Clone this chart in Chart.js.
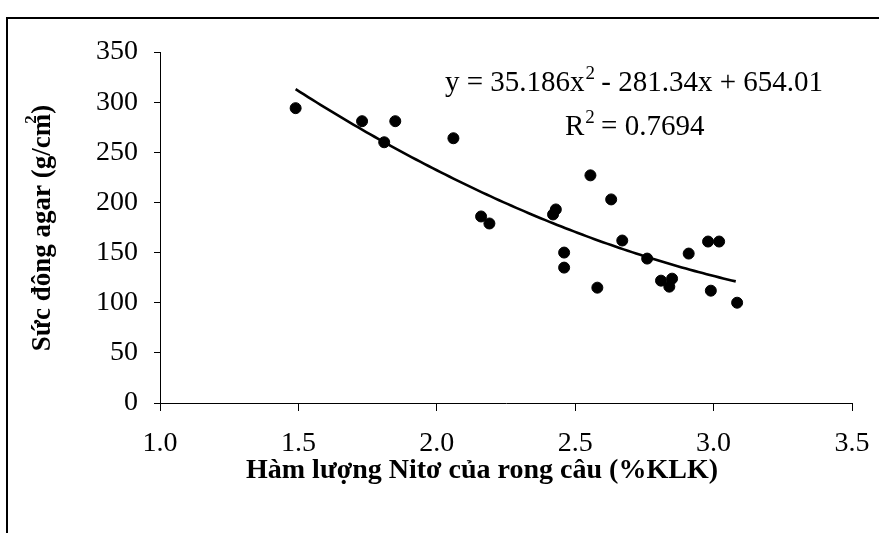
<!DOCTYPE html>
<html>
<head>
<meta charset="utf-8">
<script src="https://cdn.jsdelivr.net/npm/chart.js@4.4.0/dist/chart.umd.min.js"></script>
<style>
  html, body { margin: 0; padding: 0; background: #fff; }
  #wrap { position: relative; width: 879px; height: 533px; overflow: hidden; }
  #frame { position: absolute; left: 6px; top: 17px; width: 900px; height: 600px; border: 2px solid #000; }
  #chart { position: absolute; left: 0; top: 0; }
</style>
</head>
<body>
<div id="wrap">
  <div id="frame"></div>
  <canvas id="chart" width="879" height="533"></canvas>
</div>
<script>
// Data
const nitoValues = [1.49, 1.73, 1.81, 1.85, 2.06, 2.16, 2.19, 2.42, 2.43, 2.46, 2.46, 2.555,
                    2.58, 2.63, 2.67, 2.76, 2.81, 2.84, 2.85, 2.91, 2.98, 2.99, 3.02, 3.085];
const agarValues = [294, 281, 260, 281, 264, 186, 179, 188, 193, 150, 135, 227,
                    115, 203, 162, 144, 122, 116, 124, 149, 161, 112, 161, 100];

// Polynomial trendline (c0 + c1*x + c2*x^2) and its x range
const trendCoef = [654.01, -281.34, 35.186];
const trendRange = [1.49, 3.085];

const xTicks = [1.0, 1.5, 2.0, 2.5, 3.0, 3.5];
const yTicks = [0, 50, 100, 150, 200, 250, 300, 350];

const xTitle = "Hàm lượng Nitơ của rong câu (%KLK)";
const yTitle = "Sức đông agar (g/cm";
const eqLeft = "y = 35.186x";
const eqRight = " - 281.34x + 654.01";
const r2Text = " = 0.7694";

const serif = "'Liberation Serif', 'Times New Roman', serif";

const points = nitoValues.map((x, i) => ({ x: x, y: agarValues[i] }));

// Trendline + text labels
const extrasPlugin = {
  id: "extras",
  afterDatasetsDraw(chart) {
    const ctx = chart.ctx;
    const xs = chart.scales.x;
    const ys = chart.scales.y;

    // trendline
    ctx.save();
    ctx.beginPath();
    ctx.strokeStyle = "#000";
    ctx.lineWidth = 2.6;
    ctx.lineJoin = "round";
    for (let x = trendRange[0], n = 0; x <= trendRange[1] + 1e-9; x += 0.015, n++) {
      const y = trendCoef[0] + trendCoef[1] * x + trendCoef[2] * x * x;
      const px = xs.getPixelForValue(x);
      const py = ys.getPixelForValue(y);
      if (n === 0) ctx.moveTo(px, py); else ctx.lineTo(px, py);
    }
    ctx.stroke();
    ctx.restore();
  },
  afterDraw(chart) {
    const ctx = chart.ctx;
    ctx.save();
    ctx.fillStyle = "#000";
    ctx.textBaseline = "alphabetic";

    // equation
    ctx.font = "29px " + serif;
    let x = 445, base = 91;
    ctx.fillText(eqLeft, x, base);
    x += ctx.measureText(eqLeft).width;
    ctx.font = "19px " + serif;
    ctx.fillText("2", x + 1, base - 12);
    x += ctx.measureText("2").width;
    ctx.font = "29px " + serif;
    ctx.fillText(eqRight, x, base);

    // R^2
    x = 565; base = 135;
    ctx.fillText("R", x, base);
    x += ctx.measureText("R").width;
    ctx.font = "19px " + serif;
    ctx.fillText("2", x + 1, base - 12);
    x += ctx.measureText("2").width;
    ctx.font = "29px " + serif;
    ctx.fillText(r2Text, x, base);

    // x title
    ctx.font = "bold 28px " + serif;
    ctx.textAlign = "center";
    ctx.fillText(xTitle, 482, 478);

    // y title, rotated
    ctx.translate(50, 228);
    ctx.rotate(-Math.PI / 2);
    ctx.font = "bold 27px " + serif;
    const w1 = ctx.measureText(yTitle).width;
    const w2 = ctx.measureText(")").width;
    const total = w1 + w2;
    ctx.textAlign = "left";
    ctx.fillText(yTitle, -total / 2, 0);
    ctx.fillText(")", -total / 2 + w1, 0);
    ctx.font = "bold 17px " + serif;
    ctx.fillText("2", -total / 2 + w1 - 10, -14);
    ctx.restore();
  }
};

new Chart(document.getElementById("chart"), {
  type: "scatter",
  data: {
    datasets: [{
      data: points,
      backgroundColor: "#000",
      borderColor: "#000",
      pointRadius: 5.5,
      pointHoverRadius: 5.5
    }]
  },
  options: {
    responsive: false,
    animation: false,
    events: [],
    layout: { padding: { left: 0, right: 27, top: 52, bottom: 0 } },
    plugins: { legend: { display: false }, tooltip: { enabled: false } },
    scales: {
      x: {
        type: "linear",
        min: xTicks[0],
        max: xTicks[xTicks.length - 1],
        afterBuildTicks: (scale) => { scale.ticks = xTicks.map(v => ({ value: v })); },
        afterFit: (scale) => {
          scale.height = 130;
          scale.paddingLeft = 0;
          scale.paddingRight = 0;
        },
        border: { display: true, color: "#000", width: 1 },
        grid: { drawOnChartArea: false, drawTicks: true, tickLength: 8, color: "#000" },
        ticks: {
          color: "#000",
          padding: 16,
          font: { family: serif, size: 28 },
          callback: (v) => Number(v).toFixed(1)
        }
      },
      y: {
        type: "linear",
        min: yTicks[0],
        max: yTicks[yTicks.length - 1],
        afterBuildTicks: (scale) => { scale.ticks = yTicks.map(v => ({ value: v })); },
        afterFit: (scale) => {
          scale.width = 160;
          scale.paddingTop = 0;
          scale.paddingBottom = 0;
        },
        border: { display: true, color: "#000", width: 1 },
        grid: { drawOnChartArea: false, drawTicks: true, tickLength: 6, color: "#000" },
        ticks: {
          color: "#000",
          padding: 16,
          font: { family: serif, size: 28 }
        }
      }
    }
  },
  plugins: [extrasPlugin]
});
</script>
</body>
</html>
